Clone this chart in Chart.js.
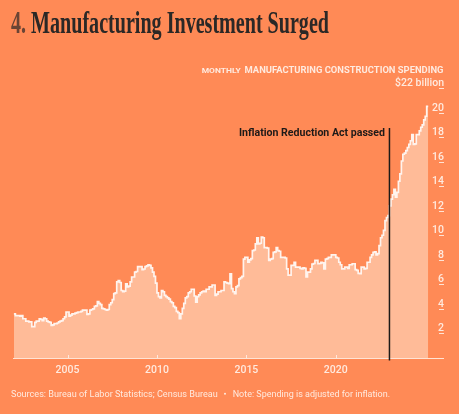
<!DOCTYPE html>
<html>
<head>
<meta charset="utf-8">
<script src="https://cdn.jsdelivr.net/npm/chart.js@4.4.1/dist/chart.umd.min.js"></script>
<style>
    html, body { margin: 0; padding: 0; background: #ff8a56; }
    canvas { display: block; }
</style>
</head>
<body>
<canvas id="chart" width="459" height="414"></canvas>
<script>
// monthly manufacturing construction spending, $ billion
const startYear = 2002;
const spending = [
    3.6, 3.45, 3.45, 3.45, 3.4, 3.45, 3.2, 3.2, 3.0, 3.0, 2.95, 2.95,        // 2002
    2.55, 2.55, 2.9, 3.0, 3.0, 3.2, 3.15, 3.05, 3.25, 3.2, 3.0, 2.95,        // 2003
    2.9, 2.65, 2.7, 2.8, 2.8, 2.85, 2.95, 3.0, 3.05, 3.2, 3.35, 3.75,        // 2004
    3.75, 3.4, 3.5, 3.6, 3.6, 3.65, 3.7, 3.75, 3.75, 3.8, 3.9, 3.9,          // 2005
    3.9, 3.55, 3.6, 3.9, 3.95, 4.0, 4.2, 4.25, 4.6, 4.45, 4.35, 4.05,        // 2006
    4.0, 3.95, 3.9, 3.95, 4.35, 4.5, 4.75, 5.25, 5.3, 6.2, 6.3, 6.15,        // 2007
    5.5, 5.4, 5.45, 6.05, 5.8, 5.85, 6.2, 6.6, 6.6, 7.0, 7.05, 7.45,         // 2008
    7.45, 7.45, 7.2, 7.25, 7.45, 7.5, 7.6, 7.55, 7.35, 7.0, 6.65, 6.1,       // 2009
    5.3, 5.0, 4.9, 5.5, 5.4, 5.1, 5.0, 4.9, 4.8, 4.6, 4.5, 4.2,              // 2010
    4.1, 3.8, 3.7, 3.2, 3.6, 4.05, 4.45, 4.9, 5.0, 5.3, 5.4, 5.6,            // 2011
    5.6, 5.05, 4.55, 5.0, 5.15, 5.3, 5.4, 5.45, 5.4, 5.6, 5.6, 5.8,          // 2012
    5.8, 5.95, 5.95, 5.1, 5.2, 5.4, 5.4, 5.5, 5.5, 6.2, 6.15, 6.1,           // 2013
    6.05, 6.85, 5.65, 5.4, 5.25, 5.8, 5.9, 6.45, 6.55, 6.65, 8.05, 8.2,      // 2014
    8.2, 7.8, 8.0, 8.1, 8.75, 8.8, 9.3, 9.8, 9.3, 9.35, 9.85, 9.8,           // 2015
    9.0, 9.0, 8.95, 7.95, 8.05, 8.1, 8.6, 8.65, 9.0, 8.75, 8.7, 8.2,         // 2016
    8.2, 8.2, 8.15, 7.27, 6.75, 6.75, 7.55, 7.55, 7.8, 7.4, 7.4, 7.4,        // 2017
    7.3, 7.27, 7.35, 7.3, 6.6, 7.0, 7.0, 7.27, 7.65, 7.7, 7.95, 7.95,        // 2018
    7.68, 7.7, 7.8, 7.75, 7.27, 8.05, 8.1, 8.2, 8.2, 8.4, 8.4, 8.4,          // 2019
    8.2, 8.15, 7.8, 7.6, 7.27, 7.27, 7.4, 7.4, 7.3, 7.6, 7.6, 7.68,          // 2020
    7.68, 7.2, 7.14, 6.9, 6.87, 7.4, 7.4, 7.27, 7.3, 7.8, 7.8, 8.2,          // 2021
    8.4, 8.6, 8.65, 8.4, 8.5, 9.15, 9.8, 10.0, 10.4, 11.2, 11.45, 11.6,      // 2022
    12.4, 12.95, 13.3, 13.75, 13.1, 13.5, 14.4, 15.0, 16.05, 16.6, 16.7, 16.9, // 2023
    17.15, 17.4, 17.7, 18.2, 17.4, 17.45, 18.2, 18.2, 18.5, 18.8, 19.0, 19.4,  // 2024
    19.7, 20.5                                                                // 2025
];

const xTicks = [2005, 2010, 2015, 2020];
const yTicks = [2, 4, 6, 8, 10, 12, 14, 16, 18, 20, 22];
const yTickLabels = ['2', '4', '6', '8', '10', '12', '14', '16', '18', '20', '$22 billion'];

const iraDate = 2023.0;
const iraLabel = 'Inflation Reduction Act passed';

const titleNum = '4.';
const titleText = ' Manufacturing Investment Surged';
const subSmall = 'MONTHLY';
const subMain = 'MANUFACTURING CONSTRUCTION SPENDING';
const sourceText = 'Sources: Bureau of Labor Statistics; Census Bureau';
const noteText = 'Note: Spending is adjusted for inflation.';

const BG = '#ff8a56';
const FILL = '#ffbb98';
const LINE = '#fff4ee';
const LIGHT = '#ffeadf';

// each month holds its value until the next month starts
const points = spending.map((v, i) => ({ x: startYear + i / 12, y: v }));
points.push({ x: startYear + spending.length / 12, y: spending[spending.length - 1] });

// draw text squeezed/stretched to a given width
function fitText(ctx, text, x, y, width, align) {
    const w = ctx.measureText(text).width;
    ctx.save();
    ctx.translate(x, y);
    ctx.scale(width / w, 1);
    ctx.textAlign = align || 'left';
    ctx.fillText(text, 0, 0);
    ctx.restore();
}

const decor = {
    id: 'decor',
    beforeDraw(chart) {
        const ctx = chart.ctx;
        ctx.save();
        ctx.fillStyle = BG;
        ctx.fillRect(0, 0, chart.width, chart.height);
        ctx.restore();
    },
    afterDatasetsDraw(chart) {
        const ctx = chart.ctx;
        const area = chart.chartArea;
        const xs = chart.scales.x;
        const ys = chart.scales.y;
        ctx.save();
        ctx.textBaseline = 'alphabetic';

        // x axis line + ticks
        ctx.strokeStyle = 'rgba(255, 236, 226, 0.9)';
        ctx.lineWidth = 1;
        ctx.beginPath();
        ctx.moveTo(area.left, area.bottom + 0.5);
        ctx.lineTo(area.right, area.bottom + 0.5);
        for (const t of xTicks) {
            const px = Math.round(xs.getPixelForValue(t)) + 0.5;
            ctx.moveTo(px, area.bottom);
            ctx.lineTo(px, area.bottom - 3);
        }
        ctx.stroke();

        ctx.fillStyle = LIGHT;
        ctx.font = '500 10.5px Roboto';
        ctx.textAlign = 'center';
        for (const t of xTicks) {
            ctx.fillText(String(t), xs.getPixelForValue(t), area.bottom + 14.5);
        }

        // y ticks on the right, label sitting on a short line
        ctx.textAlign = 'right';
        ctx.beginPath();
        yTicks.forEach((t, i) => {
            const py = Math.round(ys.getPixelForValue(t)) + 0.5;
            ctx.moveTo(area.right - 5, py);
            ctx.lineTo(area.right, py);
            ctx.fillText(yTickLabels[i], area.right, py - 2.5);
        });
        ctx.stroke();

        // subtitle
        ctx.font = 'bold 9.5px Roboto';
        fitText(ctx, subMain, area.right - 0.5, 72.7, 199, 'right');
        ctx.font = 'bold 7.5px Roboto';
        fitText(ctx, subSmall, 240.7, 72.7, 39, 'right');

        // IRA marker
        const ix = xs.getPixelForValue(iraDate);
        ctx.strokeStyle = '#1e1a18';
        ctx.lineWidth = 1.5;
        ctx.beginPath();
        ctx.moveTo(ix, 128);
        ctx.lineTo(ix, area.bottom + 2.5);
        ctx.stroke();
        ctx.fillStyle = '#1e1a18';
        ctx.font = 'bold 10.5px Roboto';
        fitText(ctx, iraLabel, ix - 4.5, 135.7, 146, 'right');

        // title
        ctx.font = 'bold 32px "Liberation Serif"';
        const wNum = ctx.measureText(titleNum).width;
        const wAll = ctx.measureText(titleNum + titleText).width;
        const sx = 318 / wAll;
        ctx.translate(11, 33);
        ctx.scale(sx, 1);
        ctx.textAlign = 'left';
        ctx.fillStyle = '#6a4434';
        ctx.fillText(titleNum, 0, 0);
        ctx.fillStyle = '#2b2826';
        ctx.fillText(titleText, wNum, 0);
        ctx.setTransform(1, 0, 0, 1, 0, 0);

        // footer
        ctx.fillStyle = LIGHT;
        ctx.font = '9.5px Roboto';
        fitText(ctx, sourceText, 11, 397, 206.7, 'left');
        fitText(ctx, noteText, 232.7, 397, 157.3, 'left');
        ctx.beginPath();
        ctx.arc(225, 393.8, 1, 0, Math.PI * 2);
        ctx.fill();

        ctx.restore();
    }
};

new Chart(document.getElementById('chart').getContext('2d'), {
    type: 'line',
    data: {
        datasets: [{
            data: points,
            stepped: 'before',
            fill: 'origin',
            backgroundColor: FILL,
            borderColor: LINE,
            borderWidth: 1.7,
            pointRadius: 0,
        }]
    },
    options: {
        responsive: false,
        animation: false,
        devicePixelRatio: 1,
        layout: { padding: { left: 13, right: 15, top: 88, bottom: 56 } },
        scales: {
            x: { type: 'linear', min: 2001.95, max: 2026.05, display: false },
            y: { type: 'linear', min: 0, max: 22, display: false },
        },
        plugins: {
            legend: { display: false },
            tooltip: { enabled: false },
        },
    },
    plugins: [decor],
});
</script>
</body>
</html>
